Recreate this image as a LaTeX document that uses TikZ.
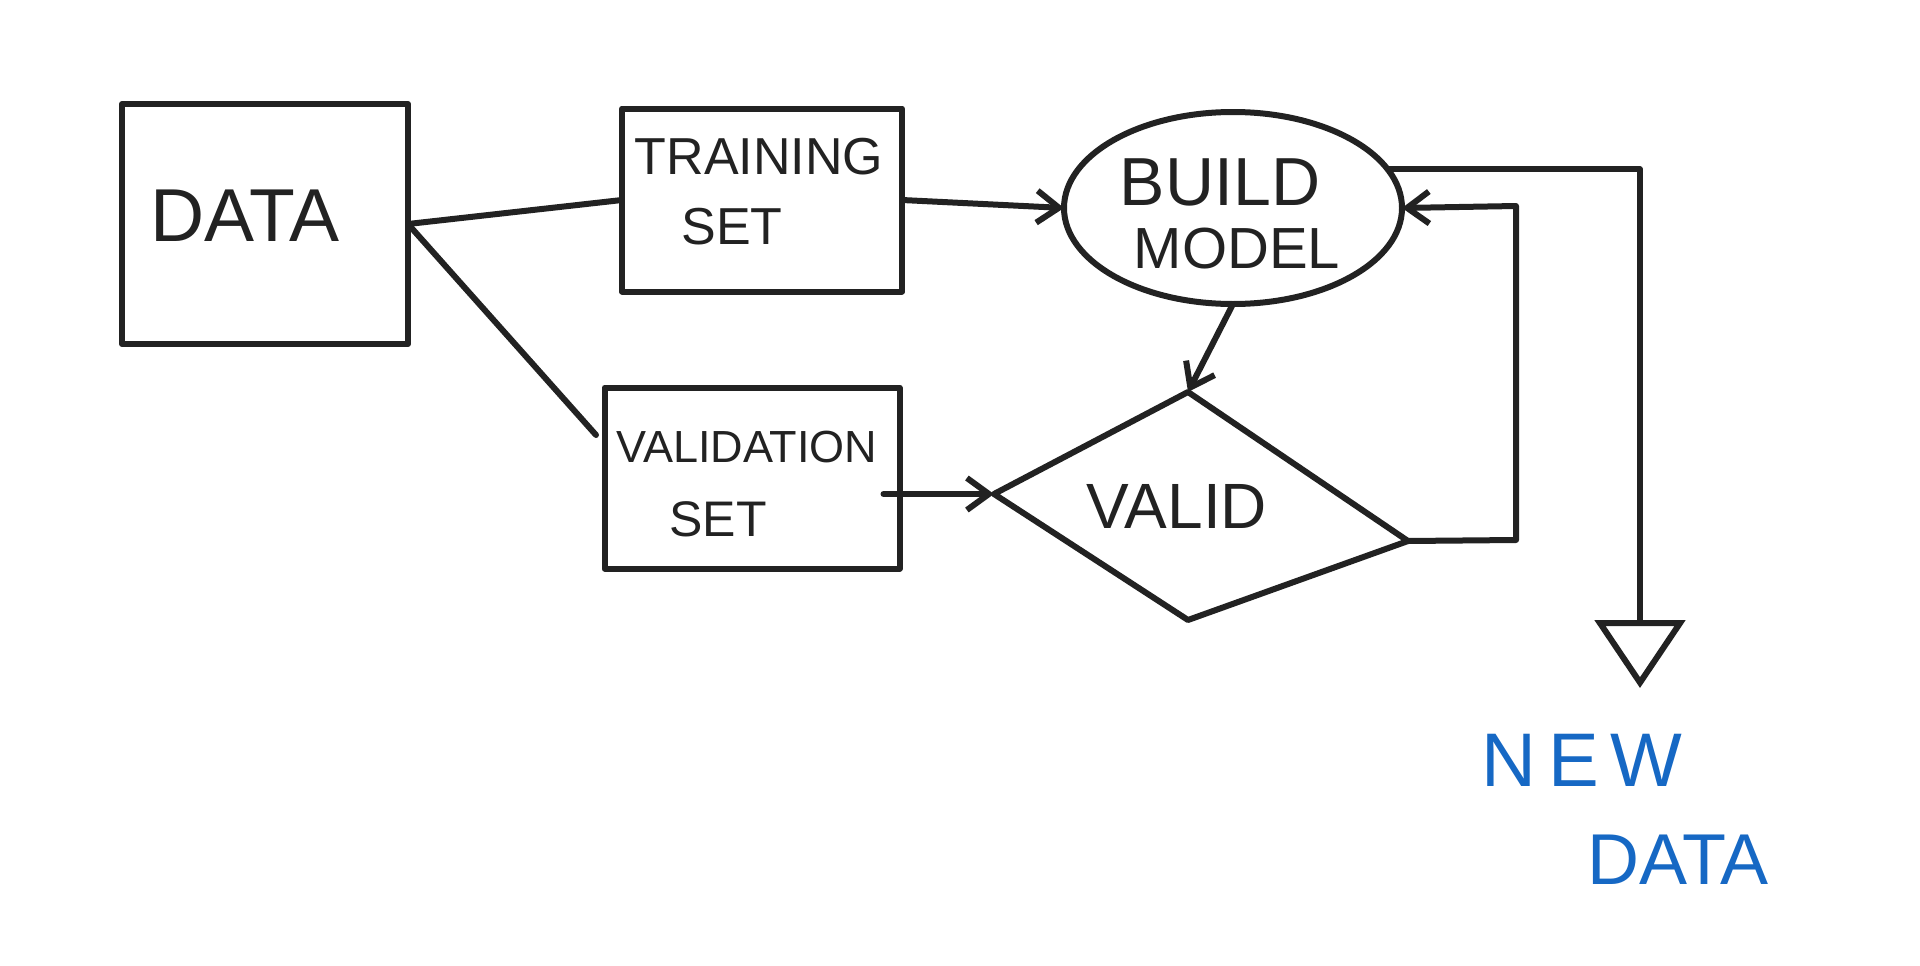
\documentclass[tikz,border=0pt]{standalone}
\usepackage{fontspec}
\setmainfont{Liberation Sans}
\usetikzlibrary{arrows.meta,shapes.geometric}
\definecolor{ink}{RGB}{34,34,34}
\definecolor{pen}{RGB}{22,104,196}
\begin{document}
\begin{tikzpicture}[x=1pt,y=-1pt,
  line width=6pt, line cap=round, line join=round, draw=ink,
  box/.style={draw=ink, rectangle, inner sep=0pt, outer sep=0pt},
  lbl/.style={text=ink, inner sep=0pt, font=#1},
  blue/.style={text=pen, inner sep=0pt, font=#1},
  arr/.style={-{Straight Barb[length=22pt,width=32pt]}},
  bigarr/.style={-{Triangle[open,length=68pt,width=90pt]}}]
\useasboundingbox (0,0) rectangle (1920,966);
\fill[white] (0,0) rectangle (1920,966);

% boxes
\node[box, minimum width=286pt, minimum height=240pt] (data) at (265,224) {};
\node[box, minimum width=280pt, minimum height=183pt] (train) at (762,200) {};
\node[box, minimum width=295pt, minimum height=181pt] (val) at (752,478) {};
\node[draw=ink, ellipse, minimum width=338pt, minimum height=192pt, inner sep=0pt, outer sep=0pt] (build) at (1233,208) {};

% diamond
\coordinate (dT) at (1188,392);
\coordinate (dL) at (994,494);
\coordinate (dB) at (1188,620);
\coordinate (dR) at (1408,541);
\draw (dT) -- (dR) -- (dB) -- (dL) -- cycle;

% texts
\node[lbl={\fontsize{75}{80}\selectfont}] (tdata) at (245,216) {DATA};
\node[lbl={\fontsize{52}{56}\selectfont}] (ttrain) at (759,157) {TRAINING};
\node[lbl={\fontsize{52}{56}\selectfont}] (tset1) at (732,227) {SET};
\node[lbl={\fontsize{45}{48}\selectfont}] (tval) at (747,447) {VALIDATION};
\node[lbl={\fontsize{50}{54}\selectfont}] (tset2) at (718,519) {SET};
\node[lbl={\fontsize{68}{72}\selectfont}] (tbuild) at (1220,182) {BUILD};
\node[lbl={\fontsize{58}{62}\selectfont}] (tmodel) at (1237,249) {MODEL};
\node[lbl={\fontsize{64}{68}\selectfont}] (tvalid) at (1177,506) {VALID};
\node[blue={\fontsize{76}{80}\selectfont\addfontfeature{LetterSpace=15}}] (tnew) at (1582,760) {NEW};
\node[blue={\fontsize{72}{76}\selectfont}] (tnd) at (1678,860) {DATA};

% connectors
\coordinate (vfree) at (596,435);
\draw (data.east) -- (train.west);
\draw (data.east) -- (vfree);
\draw[arr] (train.east) -- (build.west);
\draw[arr] ([xshift=-16pt]val.east |- dL) -- (dL);
\draw[arr] (build.south) -- (dT);
\coordinate (lp1) at (1516,540);
\coordinate (lp2) at (1516,206);
\draw[arr] (dR) -- (lp1) -- (lp2) -- (build.east);
\coordinate (o1) at (1640,170);
\coordinate (newtip) at (1640,688);
\draw[bigarr] (build.14) -- (build.14 -| o1) -- (newtip);
\end{tikzpicture}
\end{document}
